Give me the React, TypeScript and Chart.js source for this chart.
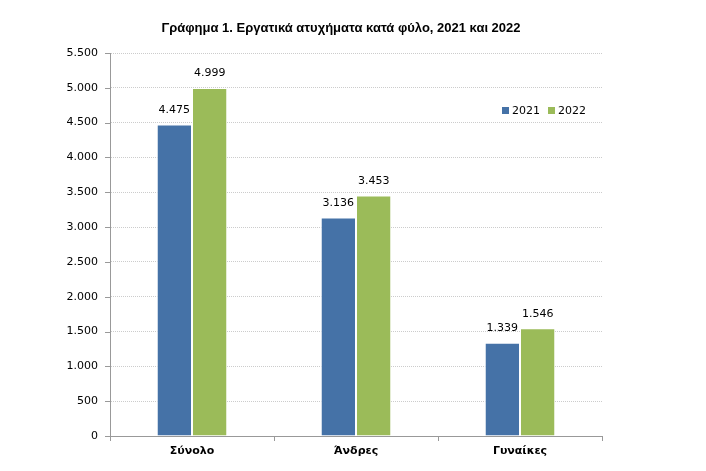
import React, { useEffect, useRef } from "react";
import { Chart, registerables } from "chart.js";

Chart.register(...registerables);

const categories = ["Σύνολο", "Άνδρες", "Γυναίκες"];
const values2021 = [4475, 3136, 1339];
const values2022 = [4999, 3453, 1546];
const seriesLabels = ["2021", "2022"];
const titleText = "Γράφημα 1. Εργατικά ατυχήματα κατά φύλο, 2021 και 2022";

const BLUE = "#4572A7";
const GREEN = "#9BBB59";

const fmt = (v: number) => {
  const s = Math.round(v).toString();
  return s.replace(/\B(?=(\d{3})+(?!\d))/g, ".");
};

const titlePlugin = {
  id: "titleText",
  afterDraw(chart: any) {
    const ctx = chart.ctx;
    ctx.save();
    ctx.font = "bold 13px 'Liberation Sans'";
    ctx.fillStyle = "#000";
    ctx.textAlign = "center";
    ctx.textBaseline = "middle";
    ctx.fillText(titleText, 341, 28);
    ctx.restore();
  },
};

const valueLabels = {
  id: "valueLabels",
  afterDatasetsDraw(chart: any) {
    const ctx = chart.ctx;
    ctx.save();
    ctx.font = "11px 'DejaVu Sans'";
    ctx.fillStyle = "#000";
    ctx.textAlign = "center";
    ctx.textBaseline = "bottom";
    chart.data.datasets.forEach((ds: any, i: number) => {
      const meta = chart.getDatasetMeta(i);
      meta.data.forEach((bar: any, j: number) => {
        ctx.fillText(fmt(ds.data[j]), bar.x, bar.y - 9);
      });
    });
    ctx.restore();
  },
};

const legendPlugin = {
  id: "customLegend",
  afterDraw(chart: any) {
    const ctx = chart.ctx;
    ctx.save();
    ctx.font = "11px 'DejaVu Sans'";
    ctx.textBaseline = "middle";
    ctx.textAlign = "left";
    const items = [
      { label: seriesLabels[0], color: BLUE, x: 502 },
      { label: seriesLabels[1], color: GREEN, x: 548 },
    ];
    const y = 111;
    items.forEach((it) => {
      ctx.fillStyle = it.color;
      ctx.fillRect(it.x, y - 4, 7, 7);
      ctx.fillStyle = "#000";
      ctx.fillText(it.label, it.x + 10, y);
    });
    ctx.restore();
  },
};

const yTickMarks = {
  id: "yTickMarks",
  afterDraw(chart: any) {
    const ctx = chart.ctx;
    const y = chart.scales.y;
    const left = chart.chartArea.left;
    ctx.save();
    ctx.strokeStyle = "#999";
    ctx.lineWidth = 1;
    y.ticks.forEach((t: any) => {
      const py = Math.round(y.getPixelForValue(t.value)) + 0.5;
      ctx.beginPath();
      ctx.moveTo(left - 5, py);
      ctx.lineTo(left, py);
      ctx.stroke();
    });
    ctx.restore();
  },
};

export default function App() {
  const ref = useRef<HTMLCanvasElement | null>(null);

  useEffect(() => {
    if (!ref.current) return;
    const chart = new Chart(ref.current, {
      type: "bar",
      data: {
        labels: categories,
        datasets: [
          {
            label: seriesLabels[0],
            data: values2021,
            backgroundColor: BLUE,
            borderColor: "#ffffff",
            borderWidth: 1,
          },
          {
            label: seriesLabels[1],
            data: values2022,
            backgroundColor: GREEN,
            borderColor: "#ffffff",
            borderWidth: 1,
          },
        ],
      },
      options: {
        animation: false,
        responsive: false,
        maintainAspectRatio: false,
        layout: { padding: { left: 40, right: 104, top: 53, bottom: 10 } },
        plugins: {
          legend: { display: false },
          title: { display: false },
          tooltip: { enabled: false },
        },
        datasets: {
          bar: { categoryPercentage: 0.43, barPercentage: 1 },
        },
        scales: {
          x: {
            grid: {
              offset: true,
              drawOnChartArea: false,
              drawTicks: true,
              tickLength: 5,
              color: "#999",
            },
            border: { color: "#999", width: 1 },
            ticks: {
              color: "#000",
              font: { family: "'DejaVu Sans'", size: 11, weight: "bold" },
              padding: 4,
            },
            afterFit(scale: any) {
              scale.height = 25;
            },
          },
          y: {
            min: 0,
            max: 5500,
            grid: {
              color: "#cccccc",
              drawTicks: false,
            },
            border: { color: "#999", width: 1, dash: [1, 1] },
            ticks: {
              stepSize: 500,
              color: "#000",
              padding: 12,
              font: { family: "'DejaVu Sans'", size: 11 },
              callback: (v: any) => fmt(Number(v)),
            },
            afterFit(scale: any) {
              scale.width = 70;
            },
          },
        },
      },
      plugins: [titlePlugin, valueLabels, legendPlugin, yTickMarks],
    });
    return () => chart.destroy();
  }, []);

  return (
    <div style={{ position: "fixed", left: 0, top: 0, width: 706, height: 471, background: "#fff" }}>
      <canvas ref={ref} width={706} height={471} style={{ display: "block" }} />
    </div>
  );
}
